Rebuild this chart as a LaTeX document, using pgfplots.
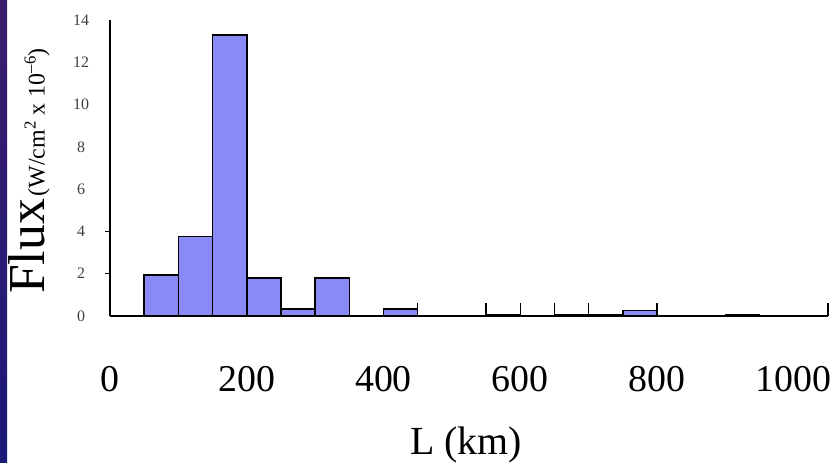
\documentclass[border=0pt]{standalone}
\usepackage{pgfplots}
\pgfplotsset{compat=1.18}
\usepackage{fontspec}
\setmainfont{Liberation Serif}
\definecolor{barblue}{HTML}{8A8AF6}
\definecolor{stripTop}{HTML}{3C1C6C}
\definecolor{stripBot}{HTML}{1A1A78}
\begin{document}
\begin{tikzpicture}[x=1bp,y=1bp]
\useasboundingbox (0,0) rectangle (839,463);
\shade[top color=stripTop, bottom color=stripBot] (0,0) rectangle (7,463);
\begin{axis}[
  scale only axis, width=718bp, height=296bp,
  at={(110bp,147bp)}, anchor=south west,
  xmin=0, xmax=1050, ymin=0, ymax=14,
  axis x line*=bottom, axis y line*=left,
  axis line style={line width=1.5bp, -},
  /pgf/number format/assume math mode=true,
  /pgf/number format/1000 sep={},
  xtick={0,200,400,600,800,1000}, ytick={0,2,4,6,8,10,12,14},
  major tick length=0pt,
  tick style={line width=1.5bp, black},
  xticklabel style={font=\fontsize{38}{38}\selectfont, anchor=base, yshift=-76bp},
  yticklabel style={font=\fontsize{16}{16}\selectfont, anchor=center, xshift=-29bp, text=black!75},
  extra x ticks={450,550,600,650,700,800,1050},
  extra x tick labels={},
  extra x tick style={major tick length=13bp, tick align=inside},
  extra y ticks={2,4},
  extra y tick labels={},
  extra y tick style={major tick length=5bp, tick align=outside},
  xlabel={L (km)},
  xlabel style={at={(axis description cs:0.496,0)}, anchor=base, yshift=-139bp, font=\fontsize{40}{40}\selectfont},
  ylabel={{\fontsize{52}{52}\selectfont Flux} {\fontsize{24}{24}\selectfont (W/cm\textsuperscript{2} x 10\textsuperscript{–6})}},
  ylabel style={at={(axis description cs:-0.091,0.49)}, anchor=base},
]
\addplot[ybar interval, fill=barblue, draw=black, line width=1.5bp] coordinates {
  (50,1.95) (100,3.75) (150,13.3) (200,1.8) (250,0.33) (300,1.8) (350,0)
  (400,0.34) (450,0) (500,0) (550,0.05) (600,0) (650,0.04) (700,0.05)
  (750,0.25) (800,0) (850,0) (900,0.06) (950,0) (1000,0) (1050,0)
};
\end{axis}
\end{tikzpicture}
\end{document}
